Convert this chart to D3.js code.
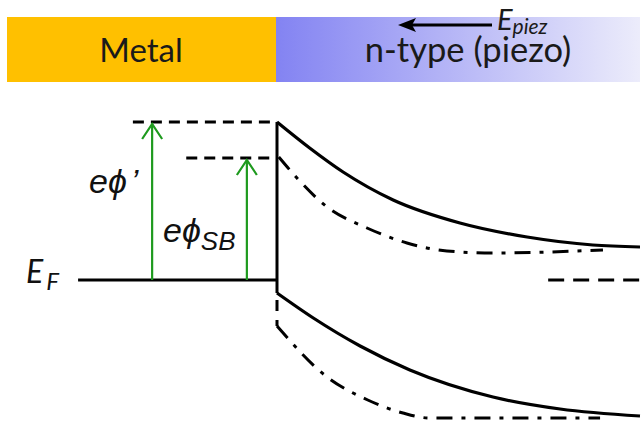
<!DOCTYPE html>
<html><head><meta charset="utf-8">
<script src="https://cdn.jsdelivr.net/npm/d3@7"></script>
<style>body{margin:0;background:#fff}svg{display:block}</style>
</head><body>
<svg id="c" width="644" height="423"></svg>
<script>
// position (arb. units, 0 = interface) and energy (eV, 0 = E_F)
const cbSolid = [[0,1.58],[9,1.32],[18.2,1.08],[32,0.80],[50.4,0.57],[68.9,0.43],[87,0.35],[100,0.33]];
const cbDashDot = [[0.5,1.23],[5.5,1.02],[13.8,0.73],[24.8,0.52],[35.8,0.37],[46.8,0.29],[59.5,0.27],[89.8,0.30]];
const vbSolid = [[0,-0.13],[10,-0.38],[22.9,-0.66],[36.6,-0.90],[59.5,-1.17],[78,-1.29],[100,-1.36]];
const vbDashDot = [[0,-0.2],[0,-0.46],[13.8,-0.97],[25,-1.2],[34.7,-1.33],[42,-1.38],[89,-1.38]];
const efMetal = [[-54.8,0],[0,0]];
const efSemi = [[74.7,0],[100,0]];
const barrierPiezo = [[-39.7,1.58],[0,1.58]];
const barrierSB = [[-25,1.22],[0,1.22]];
const interfaceLine = [[0,1.58],[0,-0.13]];
const arrows = [{x:-34.4,from:0,to:1.58},{x:-8.3,from:0,to:1.22}];
const regionLabels = ["Metal","n-type (piezo)"];

const svg = d3.select("#c");
const x = d3.scaleLinear().domain([0,100]).range([277,640]);
const y = d3.scaleLinear().domain([-1.5,2.8]).range([430,0]);
const line = d3.line().x(d=>x(d[0])).y(d=>y(d[1]));
const curve = d3.line().x(d=>x(d[0])).y(d=>y(d[1])).curve(d3.curveMonotoneX);

// header band
const defs = svg.append("defs");
const g = defs.append("linearGradient").attr("id","blue");
g.append("stop").attr("offset","0%").attr("stop-color","#8383f2");
g.append("stop").attr("offset","100%").attr("stop-color","#ececfb");

svg.append("rect").attr("x",7).attr("y",17).attr("width",269).attr("height",65).attr("fill","#ffc000");
svg.append("rect").attr("x",276).attr("y",17).attr("width",364).attr("height",65).attr("fill","url(#blue)");
svg.append("text").attr("x",141).attr("y",62).attr("text-anchor","middle")
  .attr("font-family","Lato").attr("font-size",33).attr("fill","#1a1a1a").text(regionLabels[0]);
svg.append("text").attr("x",468).attr("y",62).attr("text-anchor","middle")
  .attr("font-family","Lato").attr("font-size",34.5).attr("fill","#1a1a1a").text(regionLabels[1]);
// E_piez arrow
svg.append("line").attr("x1",492).attr("y1",25).attr("x2",408).attr("y2",25)
  .attr("stroke","#000").attr("stroke-width",3);
svg.append("path").attr("d","M398,25 L416,18 L412,25 L416,32 Z").attr("fill","#000");
const ep = svg.append("text").attr("x",497).attr("y",30).attr("font-family","Lato").attr("font-style","italic")
  .attr("font-size",29).attr("fill","#1a1a1a");
ep.append("tspan").text("E");
ep.append("tspan").attr("font-size",21).attr("dy",4).text("piez");

// energy lines
const S = "#000";
svg.append("path").attr("d",line(efMetal)).attr("stroke",S).attr("stroke-width",3).attr("fill","none");
svg.append("path").attr("d",line(efSemi)).attr("stroke",S).attr("stroke-width",3).attr("fill","none").attr("stroke-dasharray","16,9");
svg.append("path").attr("d",line(barrierPiezo)).attr("stroke",S).attr("stroke-width",3).attr("fill","none").attr("stroke-dasharray","11,7");
svg.append("path").attr("d",line(barrierSB)).attr("stroke",S).attr("stroke-width",3).attr("fill","none").attr("stroke-dasharray","11,7");
svg.append("path").attr("d",line(interfaceLine)).attr("stroke",S).attr("stroke-width",3).attr("fill","none");
svg.append("path").attr("d",curve(cbSolid)).attr("stroke",S).attr("stroke-width",3.2).attr("fill","none");
svg.append("path").attr("d",curve(vbSolid)).attr("stroke",S).attr("stroke-width",3.2).attr("fill","none");
svg.append("path").attr("d",curve(cbDashDot)).attr("stroke",S).attr("stroke-width",3).attr("fill","none").attr("stroke-dasharray","16,9,4,9");
svg.append("path").attr("d",line(vbDashDot.slice(0,2))).attr("stroke",S).attr("stroke-width",3).attr("fill","none").attr("stroke-dasharray","11,9");
svg.append("path").attr("d",curve(vbDashDot.slice(1))).attr("stroke",S).attr("stroke-width",3).attr("fill","none").attr("stroke-dasharray","16,9,4,9");

// green arrows
arrows.forEach(a=>{
  svg.append("line").attr("x1",x(a.x)).attr("y1",y(a.from)).attr("x2",x(a.x)).attr("y2",y(a.to)+2)
    .attr("stroke","#1e9a1e").attr("stroke-width",2.2);
  svg.append("path").attr("d",`M${x(a.x)-10},${y(a.to)+17} L${x(a.x)},${y(a.to)+2} L${x(a.x)+10},${y(a.to)+17}`)
    .attr("stroke","#1e9a1e").attr("stroke-width",2.2).attr("fill","none");
});

// labels
const ef = svg.append("text").attr("x",26).attr("y",283).attr("font-family","Lato").attr("font-style","italic")
  .attr("font-size",32).attr("fill","#111");
ef.append("tspan").text("E");
ef.append("tspan").attr("font-size",24).attr("dy",7).attr("dx",3).text("F");

const p1 = svg.append("text").attr("x",89).attr("y",193).attr("font-family","Liberation Sans").attr("font-style","italic")
  .attr("font-size",34).attr("fill","#111");
p1.append("tspan").text("eϕ");
p1.append("tspan").attr("dx",4).text("’");

const p2 = svg.append("text").attr("x",163).attr("y",242).attr("font-family","Liberation Sans").attr("font-style","italic")
  .attr("font-size",34).attr("fill","#111");
p2.append("tspan").text("eϕ");
p2.append("tspan").attr("font-size",26).attr("dy",8).text("SB");
</script>
</body></html>
